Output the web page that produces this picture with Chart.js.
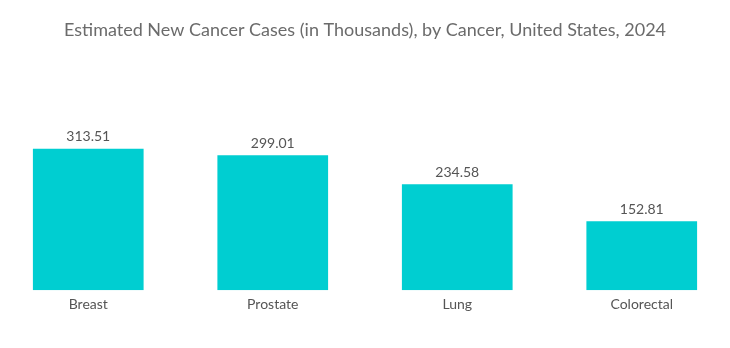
<!DOCTYPE html>
<html>
<head>
<meta charset="utf-8">
<script src="https://cdn.jsdelivr.net/npm/chart.js@4"></script>
<style>
  html, body { margin: 0; padding: 0; background: #fff; overflow: hidden; }
  #wrap { width: 738px; height: 348px; margin-left: -4px; }
</style>
</head>
<body>
<div id="wrap"><canvas id="casesChart"></canvas></div>
<script>
const cancers = ['Breast', 'Prostate', 'Lung', 'Colorectal'];
const newCases = [313.51, 299.01, 234.58, 152.81];

// writes the value just above each bar
const valueLabels = {
    id: 'valueLabels',
    afterDatasetsDraw(chart) {
        const c = chart.ctx;
        c.save();
        c.font = '14px Lato';
        c.fillStyle = '#555';
        c.textAlign = 'center';
        c.textBaseline = 'bottom';
        chart.getDatasetMeta(0).data.forEach((bar, i) => {
            c.fillText(newCases[i].toFixed(2), bar.x, bar.y - 5);
        });
        c.restore();
    }
};

const ctx = document.getElementById('casesChart').getContext('2d');
const casesChart = new Chart(ctx, {
    type: 'bar',
    data: {
        labels: cancers,
        datasets: [{
            label: 'New Cases',
            data: newCases,
            backgroundColor: '#00CED1',
            barPercentage: 0.6,
            categoryPercentage: 1
        }]
    },
    options: {
        responsive: true,
        maintainAspectRatio: false,
        animation: false,
        layout: {
            padding: { left: 0, right: 0, bottom: 29 }
        },
        plugins: {
            legend: { display: false },
            tooltip: { enabled: false },
            title: {
                display: true,
                text: 'Estimated New Cancer Cases (in Thousands), by Cancer, United States, 2024',
                color: '#6b6b6b',
                font: { family: 'Lato', size: 18, weight: 'normal' },
                padding: { top: 19, bottom: 69 }
            }
        },
        scales: {
            x: {
                grid: { display: false, drawTicks: false },
                border: { display: false },
                ticks: {
                    color: '#555',
                    padding: 6,
                    font: { family: 'Lato', size: 14 }
                }
            },
            y: {
                display: false,
                min: 0,
                max: 400
            }
        }
    },
    plugins: [valueLabels]
});
</script>
</body>
</html>
